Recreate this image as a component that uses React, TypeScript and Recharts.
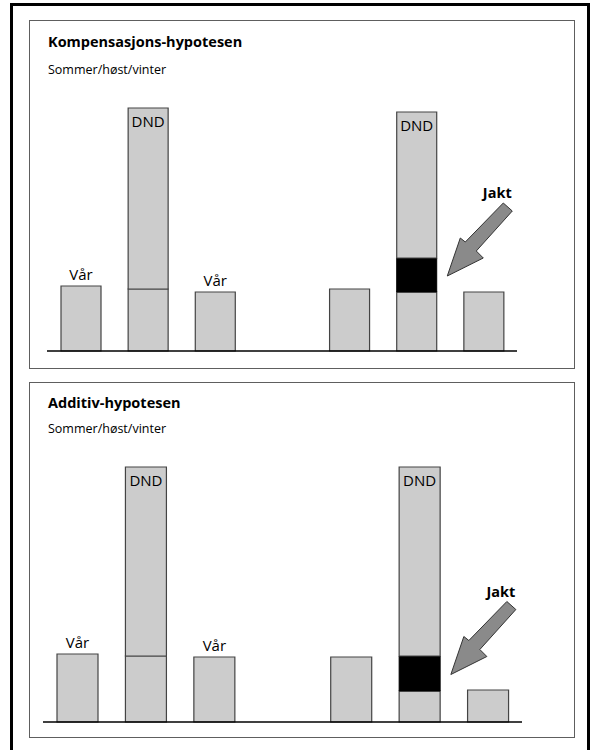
import { BarChart, Bar, XAxis, YAxis, LabelList, ReferenceDot } from 'recharts';

// slot 3 is an empty spacer between the two scenarios
const slots = ['var1', 'vinter1', 'var2', 'gap', 'var3', 'vinter2', 'var4'];
const springLabels = ['Vår', '', 'Vår', '', '', '', ''];
const winterLabels = ['', 'DND', '', '', '', 'DND', ''];

const kompBase = [65, 62, 59, 0, 62, 59, 59];
const kompHunt = [0, 0, 0, 0, 0, 34, 0];
const kompWinter = [0, 181, 0, 0, 0, 146, 0];

const addBase = [68, 66, 65, 0, 65, 31, 32];
const addHunt = [0, 0, 0, 0, 0, 35, 0];
const addWinter = [0, 189, 0, 0, 0, 189, 0];

const FONT = '"Open Sans", "DejaVu Sans", sans-serif';
const W = 597;

function buildRows(base: number[], hunt: number[], winter: number[]) {
  return slots.map((slot, i) => ({
    slot,
    base: base[i],
    hunt: hunt[i],
    winter: winter[i],
    spring: springLabels[i],
    dnd: winterLabels[i],
  }));
}

function JaktArrow(props: any) {
  const { cx, cy, dx } = props;
  const tx = cx + dx;
  const ty = cy + 1;
  const pts = [
    [0, 0],
    [13, -38],
    [18, -34],
    [56, -73],
    [65, -65],
    [29, -25],
    [36, -18],
  ]
    .map(([x, y]) => `${tx + x},${ty + y}`)
    .join(' ');
  return (
    <g>
      <polygon points={pts} fill="#8a8a8a" stroke="#333" strokeWidth={1} />
      <text
        x={tx + 50}
        y={ty - 78}
        textAnchor="middle"
        fontFamily={FONT}
        fontWeight={700}
        fontSize={14.5}
        fill="#000"
      >
        Jakt
      </text>
    </g>
  );
}

interface PanelProps {
  base: number[];
  hunt: number[];
  winter: number[];
  plotLeft: number;
  plotRight: number;
  plotTop: number;
  baseline: number;
  barSize: number;
}

function PanelChart({ base, hunt, winter, plotLeft, plotRight, plotTop, baseline, barSize }: PanelProps) {
  const rows = buildRows(base, hunt, winter);
  const plotH = baseline - plotTop;
  const marginTop = 10;
  return (
    <div style={{ position: 'absolute', left: 0, top: plotTop - marginTop }}>
      <BarChart
        width={W}
        height={marginTop + plotH + 1}
        data={rows}
        margin={{ top: marginTop, left: plotLeft, right: W - plotRight, bottom: 0 }}
        barSize={barSize}
      >
        <XAxis
          dataKey="slot"
          height={1}
          tick={false}
          tickLine={false}
          axisLine={{ stroke: '#000', strokeWidth: 1.3 }}
        />
        <YAxis hide domain={[0, plotH]} />
        <Bar dataKey="base" stackId="s" fill="#cccccc" stroke="#444" strokeWidth={1.2} isAnimationActive={false}>
          <LabelList
            dataKey="spring"
            position="top"
            offset={6}
            style={{ fontFamily: FONT, fontSize: 15, fill: '#000' }}
          />
        </Bar>
        <Bar dataKey="hunt" stackId="s" fill="#000" stroke="#000" strokeWidth={1} isAnimationActive={false} />
        <Bar dataKey="winter" stackId="s" fill="#cccccc" stroke="#444" strokeWidth={1.2} isAnimationActive={false}>
          <LabelList
            dataKey="dnd"
            position="insideTop"
            offset={8}
            style={{ fontFamily: FONT, fontSize: 15, fill: '#000' }}
          />
        </Bar>
        <ReferenceDot
          x={slots[5]}
          y={base[5] + hunt[5] / 2}
          ifOverflow="visible"
          shape={(p: any) => <JaktArrow cx={p.cx} cy={p.cy} dx={barSize / 2 + 11} />}
        />
      </BarChart>
    </div>
  );
}

export default function App() {
  return (
    <div
      style={{
        position: 'absolute',
        left: 0,
        top: 0,
        width: W,
        height: 750,
        overflow: 'hidden',
        background: '#fff',
        fontFamily: FONT,
      }}
    >
      {/* outer frame, open at the bottom of the crop */}
      <div
        style={{
          position: 'absolute',
          left: 10,
          top: 3,
          width: 580,
          height: 800,
          border: '3px solid #000',
          boxSizing: 'border-box',
        }}
      />
      <div
        style={{
          position: 'absolute',
          left: 29,
          top: 20,
          width: 546,
          height: 349,
          border: '1.5px solid #5e5e5e',
          boxSizing: 'border-box',
        }}
      />
      <div
        style={{
          position: 'absolute',
          left: 29,
          top: 382,
          width: 546,
          height: 356,
          border: '1.5px solid #5e5e5e',
          boxSizing: 'border-box',
        }}
      />
      <svg width={W} height={750} style={{ position: 'absolute', left: 0, top: 0 }}>
        <text x={48} y={47} fontFamily={FONT} fontWeight={700} fontSize={14.5} fill="#000">
          Kompensasjons-hypotesen
        </text>
        <text x={48} y={74} fontFamily={FONT} fontSize={12.5} fill="#000">
          Sommer/høst/vinter
        </text>
        <text x={48} y={408} fontFamily={FONT} fontWeight={700} fontSize={14.5} fill="#000">
          Additiv-hypotesen
        </text>
        <text x={48} y={433} fontFamily={FONT} fontSize={12.5} fill="#000">
          Sommer/høst/vinter
        </text>
      </svg>
      <PanelChart
        base={kompBase}
        hunt={kompHunt}
        winter={kompWinter}
        plotLeft={47}
        plotRight={517}
        plotTop={100}
        baseline={351}
        barSize={40}
      />
      <PanelChart
        base={addBase}
        hunt={addHunt}
        winter={addWinter}
        plotLeft={43}
        plotRight={522}
        plotTop={462}
        baseline={722}
        barSize={41}
      />
    </div>
  );
}
